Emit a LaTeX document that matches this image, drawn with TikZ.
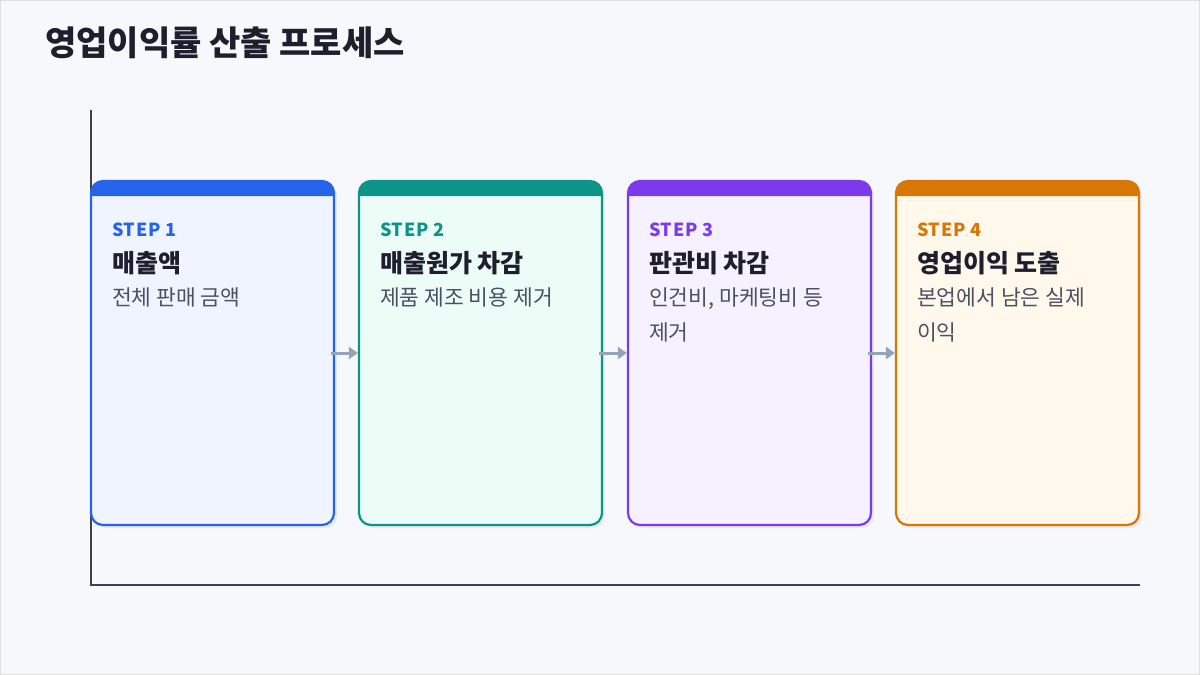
\documentclass[tikz,border=0pt]{standalone}
\usepackage{fontspec}
\setmainfont{Noto Sans CJK KR}
\usetikzlibrary{arrows.meta,positioning,shadows}
\definecolor{bgc}{HTML}{F7F8FC}
\definecolor{ink}{HTML}{1E1E2E}
\definecolor{sub}{HTML}{4B5063}
\definecolor{axisc}{HTML}{3F3F4F}
\definecolor{arr}{HTML}{94A3B8}
\definecolor{cblue}{HTML}{2563EB}\definecolor{fblue}{HTML}{EFF4FF}
\definecolor{cteal}{HTML}{0D9488}\definecolor{fteal}{HTML}{ECFDF8}
\definecolor{cpurp}{HTML}{7C3AED}\definecolor{fpurp}{HTML}{F5F1FE}
\definecolor{corng}{HTML}{D97706}\definecolor{forng}{HTML}{FFF8EB}
\tikzset{
  card/.style={draw=#1, line width=2.2pt, rounded corners=12pt,
    minimum width=243pt, minimum height=344pt,
    drop shadow={shadow xshift=3pt, shadow yshift=-3pt, opacity=0.12}},
  steplbl/.style={anchor=base west, inner sep=0pt, text=#1,
    font=\fontsize{18}{18}\selectfont\bfseries\addfontfeatures{LetterSpace=4}},
  ttl/.style={anchor=base west, inner sep=0pt, text=ink, font=\fontsize{25}{25}\selectfont\bfseries},
  dsc/.style={anchor=north west, inner sep=0pt, text=sub, align=left, font=\fontsize{21.5}{35}\selectfont},
  flow/.style={draw=arr, line width=3pt, -{Triangle[length=9pt,width=12pt]}}
}
% one card: name, x left, colour, fill, step, title, description
\newcommand{\stepcard}[7]{
  \node[card=#3, fill=#4] (#1) at (#2+121.5,353) {};
  \fill[#3] (#2,196) {[rounded corners=12pt] -- (#2,181) -- (#2+243,181)} -- (#2+243,196) -- cycle;
  \node[steplbl=#3] (#1s) at (#2+21,236) {#5};
  \node[ttl] (#1t) at (#2+21,272) {#6};
  \node[dsc] (#1d) at (#2+21,288) {#7};
}
\begin{document}
\begin{tikzpicture}[x=1pt,y=-1pt]
  \useasboundingbox (0,0) rectangle (1200,675);
  \draw[fill=bgc, draw=black!12] (0.5,0.5) rectangle (1199.5,674.5);
  \node[anchor=base west, inner sep=0pt, text=ink, font=\fontsize{34}{34}\selectfont\bfseries] (title) at (45,55) {영업이익률 산출 프로세스};

  % axes
  \coordinate (ytop) at (91,110);
  \coordinate (orig) at (91,585);
  \coordinate (xend) at (1140,585);
  \draw[axisc, line width=1.3pt] (ytop) -- (orig) -- (xend);

  % cards
  \stepcard{c1}{91}{cblue}{fblue}{STEP 1}{매출액}{전체 판매 금액}
  \stepcard{c2}{359}{cteal}{fteal}{STEP 2}{매출원가 차감}{제품 제조 비용 제거}
  \stepcard{c3}{628}{cpurp}{fpurp}{STEP 3}{판관비 차감}{인건비, 마케팅비 등\\제거}
  \stepcard{c4}{896}{corng}{forng}{STEP 4}{영업이익 도출}{본업에서 남은 실제\\이익}

  % arrows
  \draw[flow] ([xshift=-4pt]c1.east) -- (c2.west);
  \draw[flow] ([xshift=-4pt]c2.east) -- (c3.west);
  \draw[flow] ([xshift=-4pt]c3.east) -- (c4.west);
\end{tikzpicture}
\end{document}
